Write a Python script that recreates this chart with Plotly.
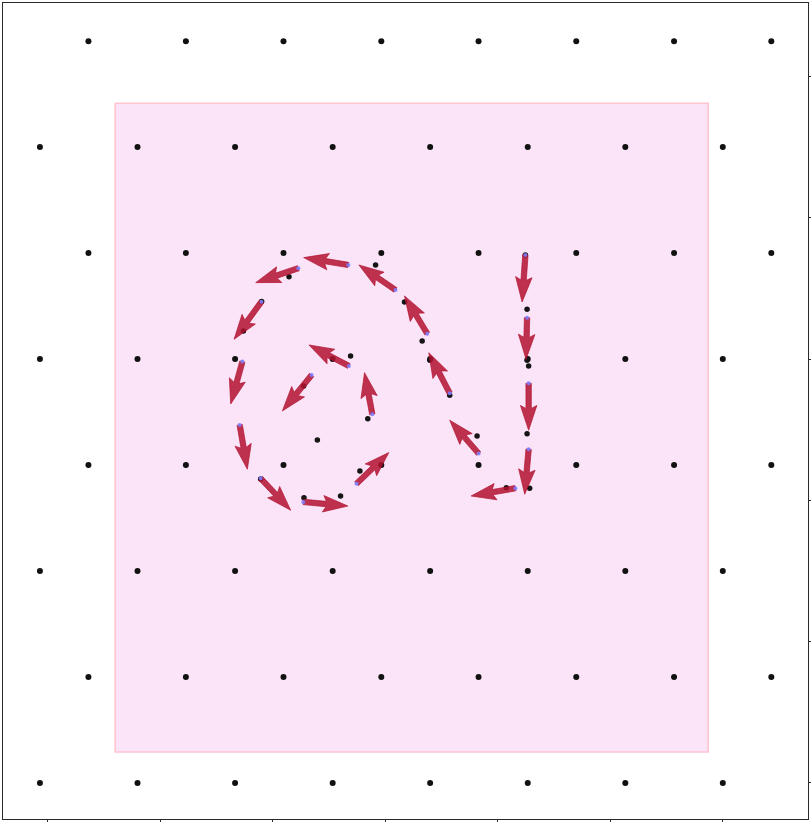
import math
import plotly.graph_objects as go

# ---------------- data ----------------
# hexagonal lattice of background dots
GRID_ROWS_Y_A = [0.0, 1.5, 3.0, 4.5]
GRID_COLS_X_A = [-0.067, 0.800, 1.667, 2.534, 3.400, 4.267, 5.134, 6.000]
GRID_ROWS_Y_B = [0.75, 2.25, 3.75, 5.25]
GRID_COLS_X_B = [0.364, 1.230, 2.097, 2.966, 3.830, 4.698, 5.567, 6.431]

# shaded region
RECT_X = [0.602, 5.870]
RECT_Y = [0.219, 4.810]

# observed track points (black dots)
TRACK_X = [2.146, 1.903, 1.741, 2.693, 2.276, 2.398, 2.846, 2.776, 2.279, 2.604,
           1.894, 2.915, 3.172, 3.329, 3.397, 3.574, 3.817, 4.077, 4.284, 4.261,
           4.275, 4.261, 4.261, 4.246]
TRACK_Y = [3.583, 3.408, 3.199, 3.022, 2.810, 2.427, 2.578, 2.208, 2.019, 2.031,
           2.151, 3.666, 3.404, 3.128, 2.992, 2.744, 2.456, 2.090, 2.086, 2.472,
           2.951, 2.992, 3.352, 3.737]

# velocity arrows: tail position and tip position
ARROW_X0 = [4.246, 4.261, 4.275, 4.275, 4.157, 3.831, 3.574, 3.374, 3.092, 2.673,
            2.229, 1.901, 1.732, 1.708, 1.894, 2.273, 2.746, 2.886, 2.678, 2.347]
ARROW_Y0 = [3.737, 3.293, 2.829, 2.362, 2.086, 2.331, 2.758, 3.180, 3.489, 3.666,
            3.643, 3.406, 2.982, 2.534, 2.156, 1.989, 2.118, 2.609, 2.951, 2.887]
ARROW_X1 = [4.217, 4.252, 4.275, 4.240, 3.764, 3.574, 3.388, 3.172, 2.767, 2.276,
            1.850, 1.658, 1.628, 1.776, 2.161, 2.669, 3.033, 2.817, 2.323, 2.087]
ARROW_Y1 = [3.404, 2.999, 2.496, 2.043, 2.031, 2.567, 3.045, 3.447, 3.666, 3.718,
            3.541, 3.140, 2.682, 2.220, 1.930, 1.960, 2.338, 2.904, 3.100, 2.633]

X_TICKS = [0, 1, 2, 3, 4, 5, 6]
Y_TICKS = [0, 1, 2, 3, 4, 5]

# ---------------- layout constants ----------------
W, H = 815, 826
M = dict(l=2, r=3, t=2, b=4)
X_RANGE = [-0.395, 6.757]
Y_RANGE = [-0.255, 5.520]
PLOT_W = W - M["l"] - M["r"]
PLOT_H = H - M["t"] - M["b"]
SX = PLOT_W / (X_RANGE[1] - X_RANGE[0])
SY = PLOT_H / (Y_RANGE[1] - Y_RANGE[0])

# quiver-style arrow geometry (pixels)
SHAFT_W = 5.4
HEAD_HALF_W = 8.3
HEAD_LEN = 25.0
HEAD_AXIS_LEN = 22.0


def arrow_polygon(x0, y0, x1, y1):
    dxp = (x1 - x0) * SX
    dyp = (y1 - y0) * SY
    L = math.hypot(dxp, dyp)
    ex, ey = dxp / L, dyp / L
    nx, ny = -ey, ex
    local = [(0, -SHAFT_W / 2), (L - HEAD_AXIS_LEN, -SHAFT_W / 2),
             (L - HEAD_LEN, -HEAD_HALF_W), (L, 0), (L - HEAD_LEN, HEAD_HALF_W),
             (L - HEAD_AXIS_LEN, SHAFT_W / 2), (0, SHAFT_W / 2), (0, -SHAFT_W / 2)]
    xs, ys = [], []
    for s, t in local:
        px = s * ex + t * nx
        py = s * ey + t * ny
        xs.append(x0 + px / SX)
        ys.append(y0 + py / SY)
    return xs, ys


fig = go.Figure()

# lattice dots
gx, gy = [], []
for yy in GRID_ROWS_Y_A:
    for xx in GRID_COLS_X_A:
        gx.append(xx)
        gy.append(yy)
for yy in GRID_ROWS_Y_B:
    for xx in GRID_COLS_X_B:
        gx.append(xx)
        gy.append(yy)
fig.add_trace(go.Scatter(x=gx, y=gy, mode="markers",
                         marker=dict(size=6, color="#111111", line=dict(width=0)),
                         hoverinfo="skip", showlegend=False))

# track dots
fig.add_trace(go.Scatter(x=TRACK_X, y=TRACK_Y, mode="markers",
                         marker=dict(size=5.5, color="#151515", line=dict(width=0)),
                         hoverinfo="skip", showlegend=False))

# arrows
ax, ay = [], []
for x0, y0, x1, y1 in zip(ARROW_X0, ARROW_Y0, ARROW_X1, ARROW_Y1):
    xs, ys = arrow_polygon(x0, y0, x1, y1)
    ax += xs + [None]
    ay += ys + [None]
fig.add_trace(go.Scatter(x=ax, y=ay, mode="lines", fill="toself",
                         fillcolor="rgba(178,18,48,0.85)",
                         line=dict(width=0.8, color="rgba(178,18,48,0.85)"),
                         hoverinfo="skip", showlegend=False))

# arrow tail markers
fig.add_trace(go.Scatter(x=ARROW_X0, y=ARROW_Y0, mode="markers",
                         marker=dict(size=4, color="rgba(125,125,255,0.9)", line=dict(width=0)),
                         hoverinfo="skip", showlegend=False))

fig.add_shape(type="rect", xref="x", yref="y",
              x0=RECT_X[0], x1=RECT_X[1], y0=RECT_Y[0], y1=RECT_Y[1],
              fillcolor="#fbe4f8", line=dict(color="#ffc4cf", width=1.6),
              layer="below")

fig.update_layout(
    width=W, height=H, margin=M,
    paper_bgcolor="white", plot_bgcolor="white",
    showlegend=False, hovermode=False,
    xaxis=dict(range=X_RANGE, showgrid=False, zeroline=False,
               showline=True, mirror=True, linecolor="#2a2a2a", linewidth=1.4,
               ticks="outside", ticklen=5, tickwidth=1.2, tickcolor="#2a2a2a",
               tickvals=X_TICKS, showticklabels=False, fixedrange=True),
    yaxis=dict(range=Y_RANGE, showgrid=False, zeroline=False, side="right",
               showline=True, mirror=True, linecolor="#2a2a2a", linewidth=1.4,
               ticks="outside", ticklen=5, tickwidth=1.2, tickcolor="#2a2a2a",
               tickvals=Y_TICKS, showticklabels=False, fixedrange=True),
)

fig.write_html("out.html", config={"displayModeBar": False},
               post_script="document.body.style.margin='0';document.body.style.overflow='hidden';")
